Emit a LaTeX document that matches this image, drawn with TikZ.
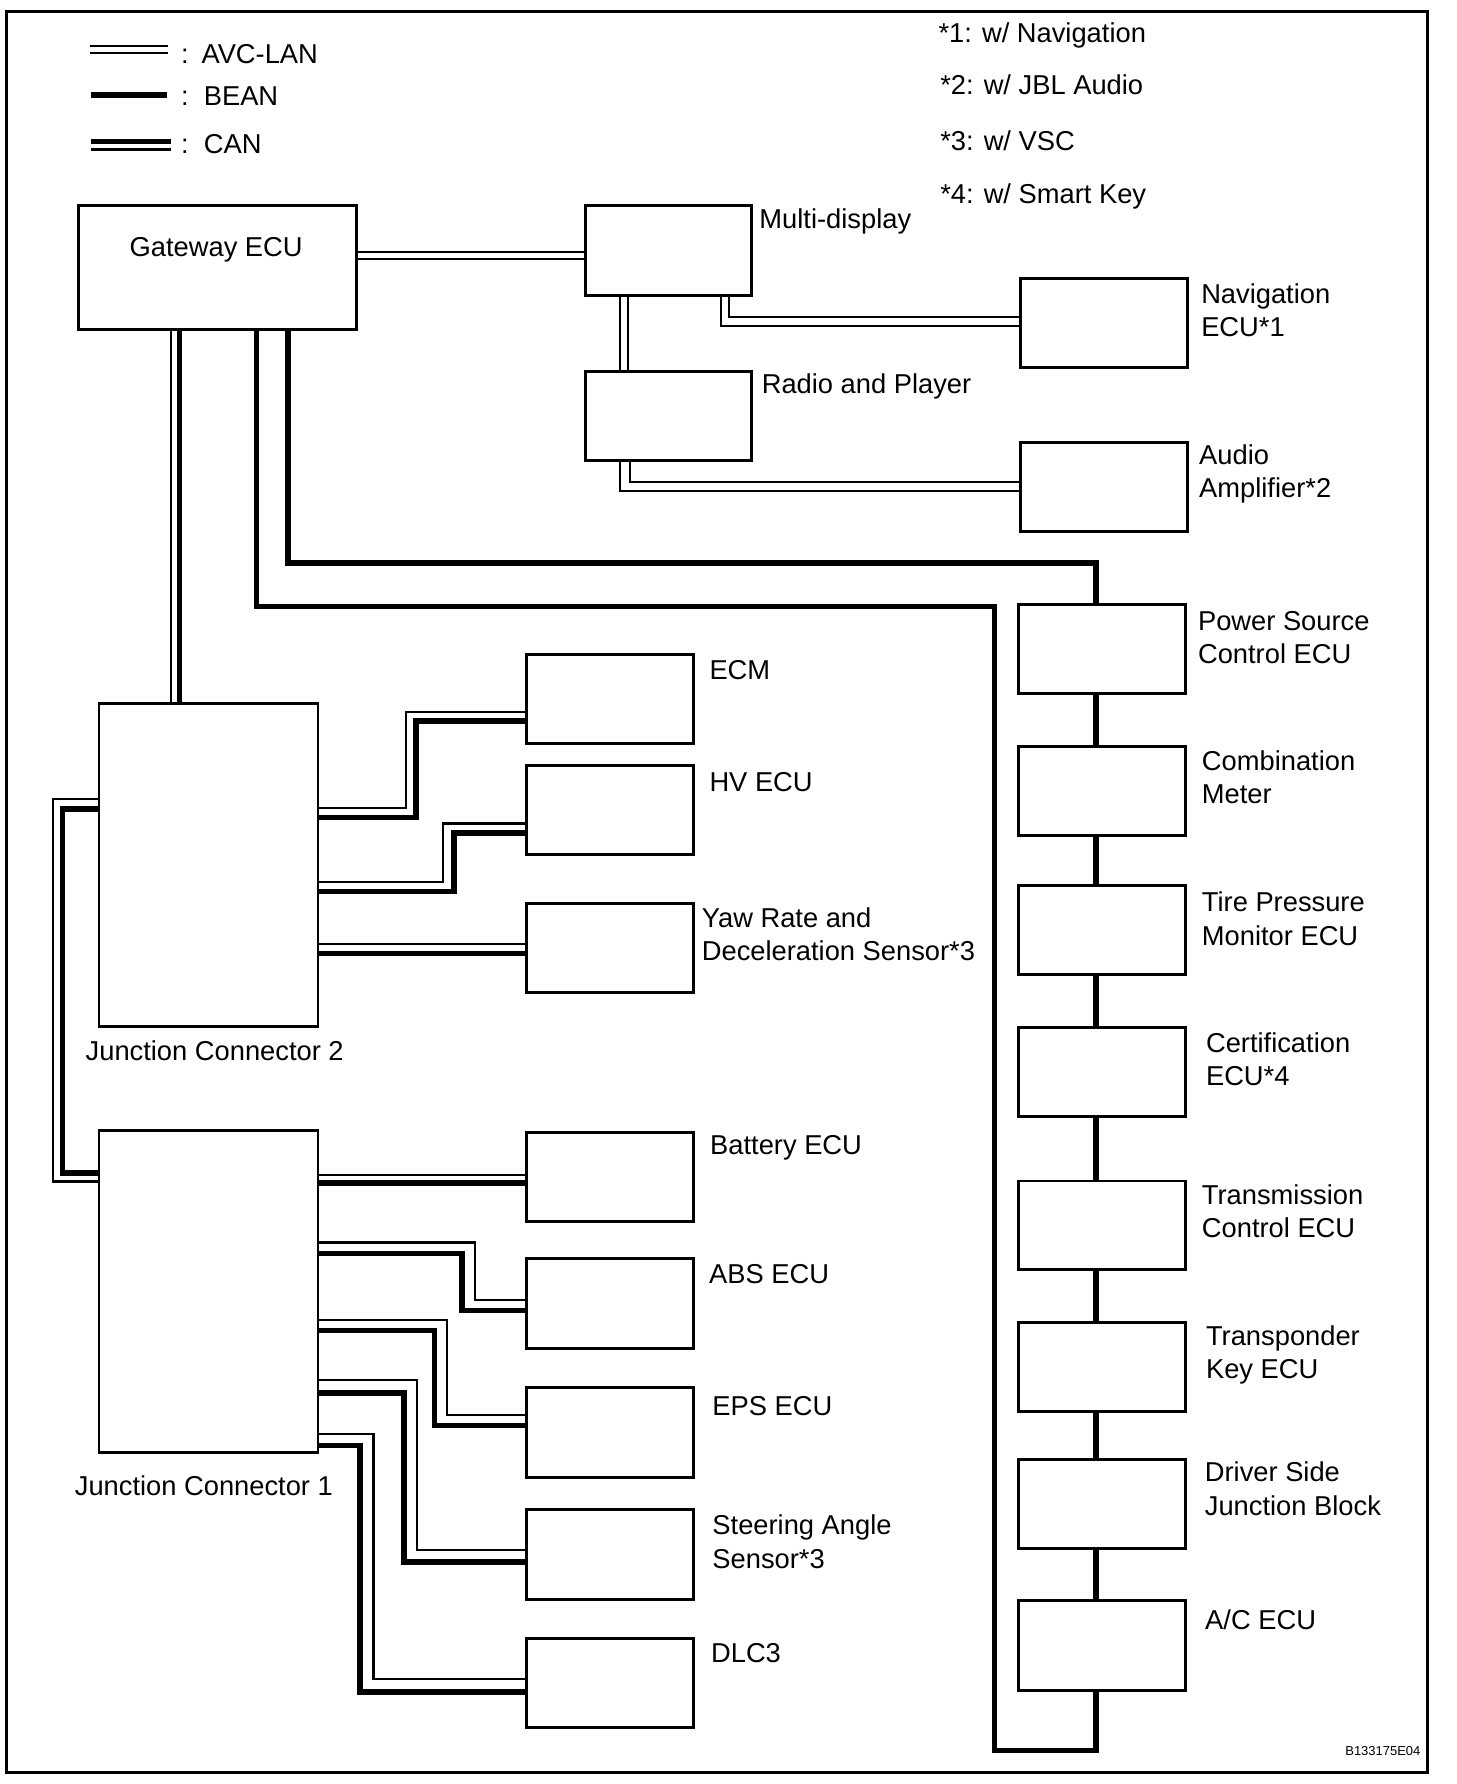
\documentclass[tikz,border=0pt]{standalone}
\usepackage{fontspec}
\setmainfont{Liberation Sans}
\newcommand\twoline[2]{\vtop{\baselineskip=14.65pt\hbox{#1}\hbox{#2}}}
\newcommand\ecubox[5]{\node[ecu, minimum width={(#4-#2)*0.5pt}, minimum height={(#5-#3)*0.5pt}] (#1) at ({(#2+#4)/2},{(#3+#5)/2}) {};}
\tikzset{
  ecu/.style={draw, rectangle, line width=1.3pt, inner sep=0pt, outer sep=0pt},
  lbl/.style={inner sep=0pt, outer sep=0pt, anchor=base west, font=\fontsize{12pt}{14.65pt}\selectfont},
  avc/.style={line width=0.9pt},
  bean/.style={line width=2.35pt},
  canthin/.style={line width=0.95pt},
  canthick/.style={line width=2.35pt},
}
\begin{document}
\begin{tikzpicture}[x=0.5pt,y=-0.5pt]
\useasboundingbox (0,0) rectangle (1280,1568);
\fill[white] (0,0) rectangle (1280,1568);
\draw[line width=1.3pt] (6,10.5) rectangle (1255,1557.5);

% legend
\draw[avc] (79,40.3) -- (148,40.3);
\draw[avc] (79,46.8) -- (148,46.8);
\draw[bean] (80,83.5) -- (146.5,83.5);
\draw[canthick] (80,124.6) -- (150,124.6);
\draw[line width=1.3pt] (80,131.3) -- (150,131.3);
\node[lbl] (legA) at (159.3,55.7) {:\kern5.6pt AVC-LAN};
\node[lbl] (legB) at (159.3,92.3) {:\kern6.6pt BEAN};
\node[lbl] (legC) at (159.3,134.8) {:\kern6.6pt CAN};

% footnotes
\node[lbl] (fn1) at (824.9,37) {*1: w/ Navigation};
\node[lbl] (fn2) at (826.4,83) {*2: w/ JBL Audio};
\node[lbl] (fn3) at (826.4,132) {*3: w/ VSC};
\node[lbl] (fn4) at (826.4,179) {*4: w/ Smart Key};

% boxes
\ecubox{gw}{69}{180.2}{313.5}{289.2}
\ecubox{md}{514.3}{180.2}{660.8}{259.3}
\ecubox{rp}{514.3}{326.7}{660.8}{404.4}
\ecubox{nav}{896.7}{244.7}{1044}{323}
\ecubox{amp}{896.7}{389}{1044}{467.4}
\ecubox{ps}{894.8}{531.3}{1042}{609.5}
\ecubox{cm}{894.8}{656.4}{1042}{734}
\ecubox{tp}{894.8}{778.5}{1042}{856.8}
\ecubox{cert}{894.8}{902.9}{1042}{981.5}
\ecubox{tcu}{894.8}{1038}{1042}{1115.9}
\ecubox{tkey}{894.8}{1162.2}{1042}{1240.8}
\ecubox{dsjb}{894.8}{1282.5}{1042}{1360.6}
\ecubox{ac}{894.8}{1406.6}{1042}{1485.7}
\ecubox{ecm}{463}{575}{609.5}{653.5}
\ecubox{hv}{463}{672.5}{609.5}{750.8}
\ecubox{yaw}{463}{794.1}{609.5}{872.7}
\ecubox{bat}{463}{995.5}{609.5}{1074}
\ecubox{abs}{463}{1106.2}{609.5}{1184.8}
\ecubox{eps}{463}{1219.6}{609.5}{1298.7}
\ecubox{sas}{463}{1326.6}{609.5}{1405.4}
\ecubox{dlc}{463}{1440.4}{609.5}{1518.5}
\ecubox{jc2}{87}{618.5}{279.5}{902}
\ecubox{jc1}{87}{993.8}{279.5}{1277}

% labels
\node[lbl, anchor=base] (tgw) at (190,225.6) {Gateway ECU};
\node[lbl] (tmd) at (667.5,200.7) {Multi-display};
\node[lbl] (trp) at (669.6,345.8) {Radio and Player};
\node[lbl] (tnav) at (1055.8,266.7) {\twoline{Navigation}{ECU*1}};
\node[lbl] (tamp) at (1054,407.9) {\twoline{Audio}{Amplifier*2}};
\node[lbl] (tps) at (1053,553.8) {\twoline{Power Source}{Control ECU}};
\node[lbl] (tcm) at (1056.4,677) {\twoline{Combination}{Meter}};
\node[lbl] (ttp) at (1056.4,801.3) {\twoline{Tire Pressure}{Monitor ECU}};
\node[lbl] (tcert) at (1060,924.9) {\twoline{Certification}{ECU*4}};
\node[lbl] (ttcu) at (1056.4,1058.7) {\twoline{Transmission}{Control ECU}};
\node[lbl] (ttkey) at (1060,1182.7) {\twoline{Transponder}{Key ECU}};
\node[lbl] (tdsjb) at (1059,1302.5) {\twoline{Driver Side}{Junction Block}};
\node[lbl] (tac) at (1059.3,1432.4) {A/C ECU};
\node[lbl] (tecm) at (623.6,597.2) {ECM};
\node[lbl] (thv) at (623.6,696) {HV ECU};
\node[lbl] (tyaw) at (616.9,815.2) {\twoline{Yaw Rate and}{Deceleration Sensor*3}};
\node[lbl] (tbat) at (624.2,1014.8) {Battery ECU};
\node[lbl] (tabs) at (623.3,1128.2) {ABS ECU};
\node[lbl] (teps) at (626.2,1244) {EPS ECU};
\node[lbl] (tsas) at (626.2,1348.9) {\twoline{Steering Angle}{Sensor*3}};
\node[lbl] (tdlc) at (625,1461.6) {DLC3};
\node[lbl] (tjc2) at (75.3,932) {Junction Connector 2};
\node[lbl] (tjc1) at (65.8,1314) {Junction Connector 1};
\node[lbl, anchor=base east, font=\fontsize{5.7pt}{7pt}\selectfont] (code) at (1248.4,1542.9) {B133175E04};

% AVC-LAN
\draw[avc] (gw.east |- 0,221.2) -- (md.west |- 0,221.2);
\draw[avc] (gw.east |- 0,227.7) -- (md.west |- 0,227.7);
\draw[avc] (md.south -| 545,0) -- (rp.north -| 545,0);
\draw[avc] (md.south -| 551.8,0) -- (rp.north -| 551.8,0);
\draw[avc] (md.south -| 634.1,0) |- (nav.west |- 0,286.3);
\draw[avc] (md.south -| 640.9,0) |- (nav.west |- 0,278.4);
\draw[avc] (rp.south -| 545,0) |- (amp.west |- 0,431.4);
\draw[avc] (rp.south -| 553.3,0) |- (amp.west |- 0,423.5);

% CAN
\draw[canthin] (gw.south -| 150,0) -- (jc2.north -| 150,0);
\draw[canthick] (gw.south -| 157.6,0) -- (jc2.north -| 157.6,0);
\draw[canthin] (jc2.east |- 0,710) -| (357,625.6) -- (ecm.west |- 0,625.6);
\draw[canthick] (jc2.east |- 0,718.7) -| (365.5,633.8) -- (ecm.west |- 0,633.8);
\draw[canthin] (jc2.east |- 0,775.2) -| (389.4,723.8) -- (hv.west |- 0,723.8);
\draw[canthick] (jc2.east |- 0,783.4) -| (399,732) -- (hv.west |- 0,732);
\draw[canthin] (jc2.east |- 0,830) -- (yaw.west |- 0,830);
\draw[canthick] (jc2.east |- 0,838) -- (yaw.west |- 0,838);
\draw[canthin] (jc2.west |- 0,702.4) -| (46.5,1038.5) -- (jc1.west |- 0,1038.5);
\draw[canthick] (jc2.west |- 0,711) -| (55,1031) -- (jc1.west |- 0,1031);
\draw[canthin] (jc1.east |- 0,1032.5) -- (bat.west |- 0,1032.5);
\draw[canthick] (jc1.east |- 0,1039.7) -- (bat.west |- 0,1039.7);
\draw[canthin] (jc1.east |- 0,1092) -| (417.8,1142.9) -- (abs.west |- 0,1142.9);
\draw[canthick] (jc1.east |- 0,1101.5) -| (406,1151.8) -- (abs.west |- 0,1151.8);
\draw[canthin] (jc1.east |- 0,1160.4) -| (393,1244) -- (eps.west |- 0,1244);
\draw[canthick] (jc1.east |- 0,1169.6) -| (381.7,1253) -- (eps.west |- 0,1253);
\draw[canthin] (jc1.east |- 0,1213.2) -| (366.8,1362.6) -- (sas.west |- 0,1362.6);
\draw[canthick] (jc1.east |- 0,1224.4) -| (355,1373) -- (sas.west |- 0,1373);
\draw[canthin] (jc1.east |- 0,1260.3) -| (328.3,1476) -- (dlc.west |- 0,1476);
\draw[canthick] (jc1.east |- 0,1270.3) -| (316.5,1487) -- (dlc.west |- 0,1487);

% BEAN
\draw[bean] (gw.south -| 253,0) |- (963.2,494.7) -- (ps.north -| 963.2,0);
\draw[bean] (gw.south -| 225.4,0) |- (874.1,533.3) |- (963.2,1538.5) -- (ac.south -| 963.2,0);
\foreach \a/\b in {ps/cm, cm/tp, tp/cert, cert/tcu, tcu/tkey, tkey/dsjb, dsjb/ac}
  \draw[bean] (\a.south -| 963.2,0) -- (\b.north -| 963.2,0);
\end{tikzpicture}
\end{document}
